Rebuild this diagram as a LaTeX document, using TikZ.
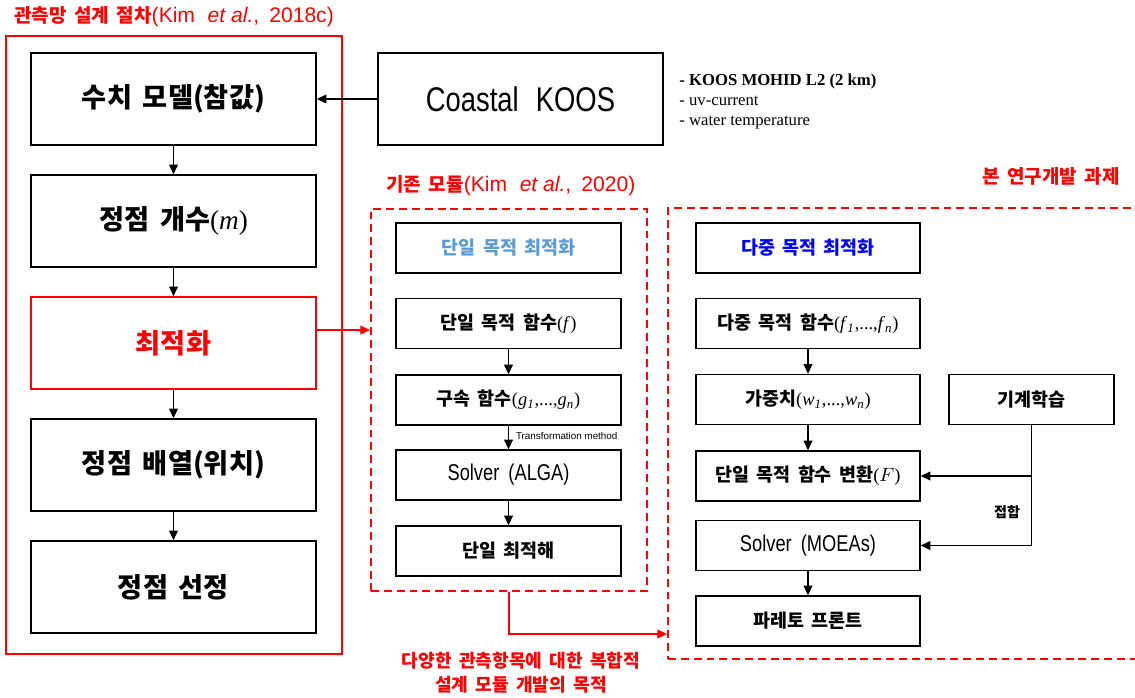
\documentclass[tikz,border=0pt]{standalone}
\usepackage{fontspec}
\setmainfont{Noto Sans CJK KR}
\newfontfamily\arl{Liberation Sans}
\newfontfamily\arn[FakeStretch=0.8]{Liberation Sans}
\newfontfamily\tms{Liberation Serif}
\usetikzlibrary{arrows.meta,calc}
\definecolor{ltblue}{HTML}{5B9BD5}
\newcommand\wsp{\hspace{0.4em}}
\newcommand\mth[1]{{\tms\mdseries #1}}
\begin{document}
\begin{tikzpicture}[x=0.02cm,y=-0.02cm,
  bigbox/.style={draw=black,line width=0.9pt,minimum width=5.7cm,minimum height=1.84cm,inner sep=0pt,font=\fontsize{15.5}{18}\selectfont\bfseries},
  smallbox/.style={draw=black,line width=0.8pt,minimum width=4.5cm,minimum height=1.0cm,inner sep=0pt,font=\fontsize{10.5}{12}\selectfont\bfseries},
  arr/.style={-{Triangle[length=5.5pt,width=5pt]},line width=0.6pt},
  redarr/.style={arr,draw=red},
  dashbox/.style={draw=red,line width=1.1pt,dash pattern=on 4.5pt off 2.8pt,inner sep=0pt},
  title/.style={text=red,inner sep=0pt,font=\fontsize{10.8}{12}\selectfont},
  latin/.style={}
]
\useasboundingbox (0,0) rectangle (1135,697);
\clip (0,0) rectangle (1135,697);

% left column
\node[draw=red,line width=1.1pt,minimum width=6.72cm,minimum height=12.36cm,inner sep=0pt] (lbox) at (174,345) {};
\node[title,anchor=west] (tl) at (14,17) {\bfseries 관측망\wsp 설계\wsp 절차\mdseries{\arl\fontsize{12}{14}\selectfont(Kim\hspace{0.6em}\textit{et al.}, \hspace{0.2em}2018c)}};
\node[bigbox] (b1) at (173.5,99) {수치\wsp 모델(참값)};
\node[bigbox] (b2) at (173.5,221) {정점\wsp 개수\mth{(\textit{m})}};
\node[bigbox,draw=red,text=red] (b3) at (173.5,343) {최적화};
\node[bigbox] (b4) at (173.5,465) {정점\wsp 배열(위치)};
\node[bigbox] (b5) at (173.5,587) {정점\wsp 선정};
\draw[arr] (b1) -- (b2);
\draw[arr] (b2) -- (b3);
\draw[arr] (b3) -- (b4);
\draw[arr] (b4) -- (b5);

% KOOS
\node[bigbox,font=\arn\fontsize{19.5}{22}\selectfont] (koos) at (520.5,99) {Coastal\hspace{0.5em}KOOS};
\draw[arr] (koos.west) -- (b1.east);
\node[anchor=north west,align=left,inner sep=0pt,font=\tms\fontsize{9.5}{11.4}\selectfont] (notes) at (679,74) {\textbf{- KOOS MOHID L2 (2 km)}\\- uv-current\\- water temperature};

% middle module
\node[dashbox,minimum width=5.52cm,minimum height=7.64cm] (mid) at (509,400) {};
\node[title,anchor=west] (tm) at (386,186) {\bfseries 기존\wsp 모듈\mdseries{\arl\fontsize{12}{14}\selectfont(Kim\hspace{0.6em}\textit{et al.}, \hspace{0.2em}2020)}};
\node[smallbox,text=ltblue] (m0) at (508.5,248) {단일\wsp 목적\wsp 최적화};
\node[smallbox] (m1) at (508.5,323.5) {단일\wsp 목적\wsp 함수\mth{(\textit{f})}};
\node[smallbox] (m2) at (508.5,400) {구속\wsp 함수\mth{(\textit{g}\textsubscript{\textit{1}},...,\textit{g}\textsubscript{\textit{n}})}};
\node[smallbox,font=\arn\fontsize{13}{15}\selectfont] (m3) at (508.5,475) {Solver\hspace{0.4em}(ALGA)};
\node[smallbox] (m4) at (508.5,551) {단일\wsp 최적해};
\draw[arr] (m1) -- (m2);
\draw[arr] (m2) -- node[right=3pt,pos=0.45,inner sep=1pt,font=\arl\fontsize{5.6}{7}\selectfont] (tmeth) {Transformation method} (m3);
\draw[arr] (m3) -- (m4);

% right module
\node[dashbox,minimum width=10.64cm,minimum height=9.02cm] (rbox) at (934,433.5) {};
\node[title,anchor=east] (tr) at (1120,176) {\bfseries 본\wsp 연구개발\wsp 과제};
\node[smallbox,minimum width=4.48cm,text=blue] (r0) at (808,248) {다중\wsp 목적\wsp 최적화};
\node[smallbox,minimum width=4.48cm] (r1) at (808,323.5) {다중\wsp 목적\wsp 함수\mth{(\textit{f}\textsubscript{\textit{1}},...,\textit{f}\textsubscript{\textit{n}})}};
\node[smallbox,minimum width=4.48cm] (r2) at (808,399.5) {가중치\mth{(\textit{w}\textsubscript{\textit{1}},...,\textit{w}\textsubscript{\textit{n}})}};
\node[smallbox,minimum width=4.48cm] (r3) at (808,476) {단일\wsp 목적\wsp 함수\wsp 변환\mth{($F$)}};
\node[smallbox,minimum width=4.48cm,font=\arn\fontsize{13}{15}\selectfont] (r4) at (808,545.5) {Solver\hspace{0.4em}(MOEAs)};
\node[smallbox,minimum width=4.48cm] (r5) at (808,621) {파레토\wsp 프론트};
\node[smallbox,minimum width=3.3cm] (ml) at (1031.5,399.5) {기계학습};
\draw[arr] (r1) -- (r2);
\draw[arr] (r2) -- (r3);
\draw[arr] (r4) -- (r5);
\draw[line width=0.6pt] (ml.south) -- (ml.south |- r4.east);
\draw[arr] (ml.south |- r3.east) -- (r3.east);
\draw[arr] (ml.south |- r4.east) -- (r4.east);
\node[inner sep=0pt,font=\fontsize{8}{10}\selectfont\bfseries] (jh) at (1007,512) {접합};

% red connectors
\coordinate (o1) at ($(b3.east)+(0,-13)$);
\draw[redarr] (o1) -- (o1 -| mid.west);
\coordinate (c1) at (0,634);
\draw[redarr] (mid.south) |- (c1 -| rbox.west);

% bottom text
\node[align=center,text=red,inner sep=0pt,font=\fontsize{10.3}{14}\selectfont\bfseries] (bt) at (521,672.5) {다양한\wsp 관측항목에\wsp 대한\wsp 복합적\\설계\wsp 모듈\wsp 개발의\wsp 목적};
\end{tikzpicture}
\end{document}
